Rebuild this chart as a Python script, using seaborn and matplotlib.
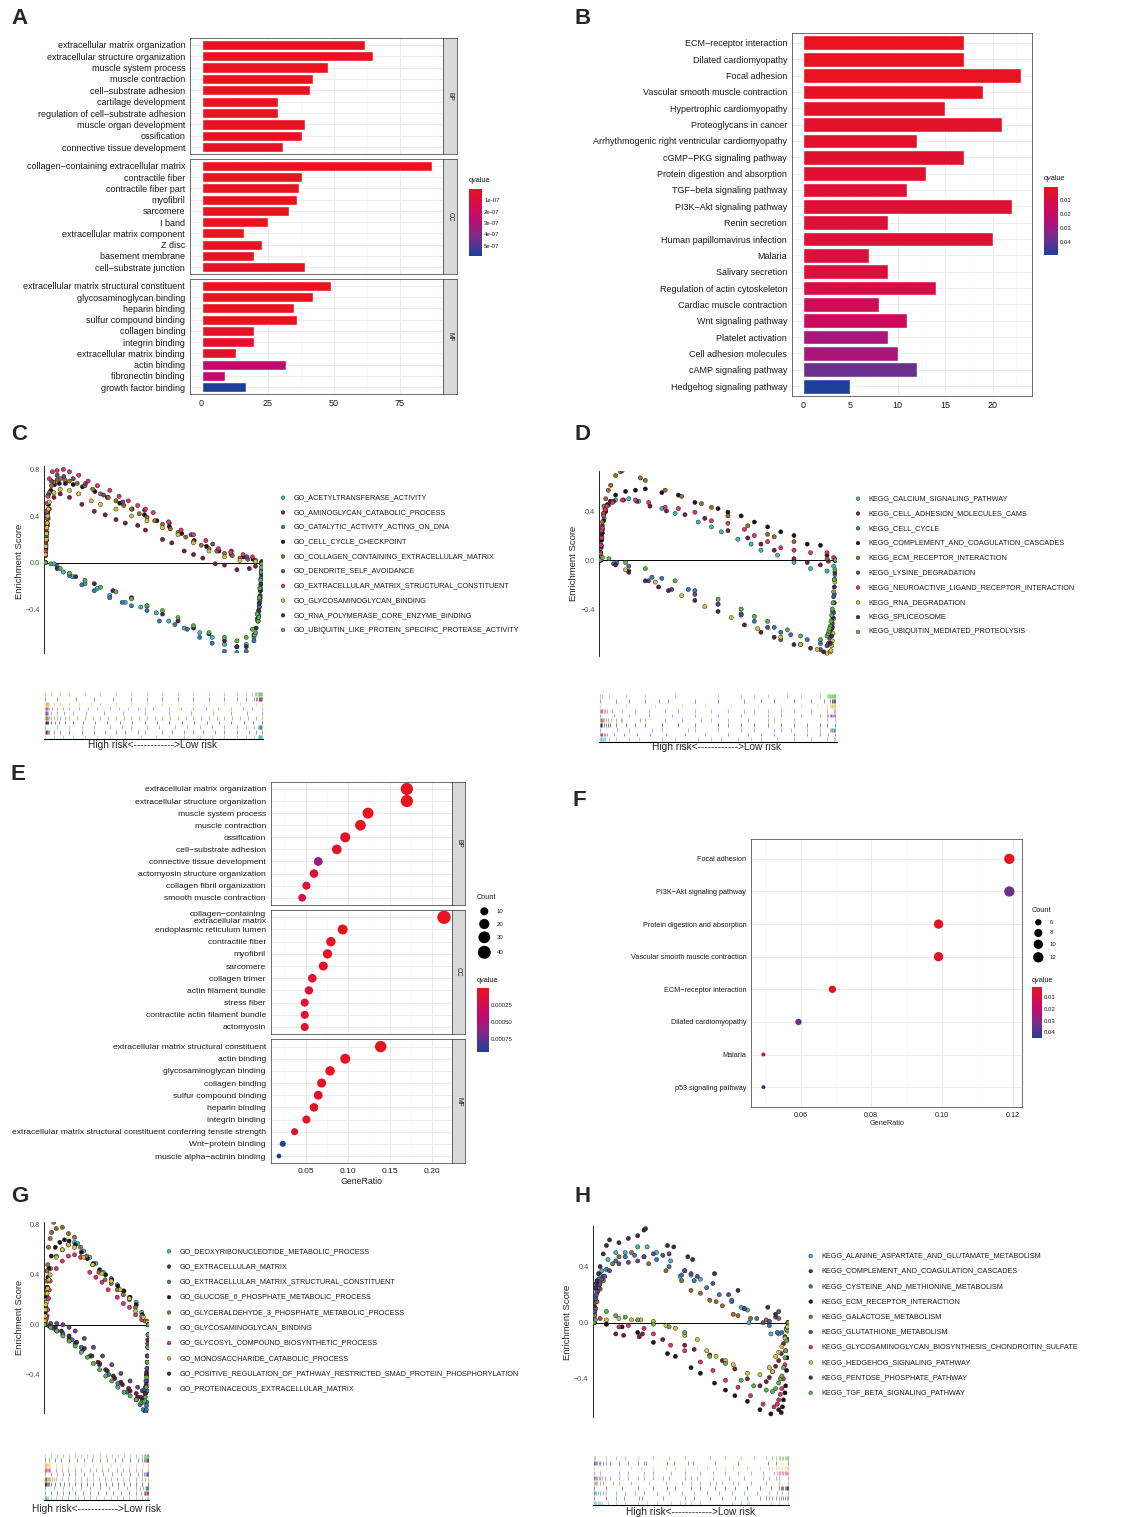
import numpy as np
import pandas as pd
import matplotlib
matplotlib.use("Agg")
import matplotlib.pyplot as plt
import seaborn as sns
from matplotlib.colors import LinearSegmentedColormap, Normalize
from matplotlib.colorbar import ColorbarBase

W, H = 1123, 1517

# ---------------- A: GO enrichment barplot ----------------
A_bp_terms = ["extracellular matrix organization", "extracellular structure organization",
              "muscle system process", "muscle contraction", "cell−substrate adhesion",
              "cartilage development", "regulation of cell−substrate adhesion",
              "muscle organ development", "ossification", "connective tissue development"]
A_bp_count = [62, 65, 48, 42, 41, 29, 29, 39, 38, 31]
A_bp_q = [2e-15, 1e-15, 3e-12, 5e-11, 4e-10, 2e-9, 5e-9, 8e-9, 1e-8, 2e-8]

A_cc_terms = ["collagen−containing extracellular matrix", "contractile fiber", "contractile fiber part",
              "myofibril", "sarcomere", "I band", "extracellular matrix component", "Z disc",
              "basement membrane", "cell−substrate junction"]
A_cc_count = [87, 38, 37, 36, 33, 25, 16, 23, 20, 39]
A_cc_q = [1e-15, 1e-11, 2e-11, 3e-11, 6e-10, 2e-9, 4e-9, 6e-9, 9e-9, 1.5e-8]

A_mf_terms = ["extracellular matrix structural constituent", "glycosaminoglycan binding", "heparin binding",
              "sulfur compound binding", "collagen binding", "integrin binding",
              "extracellular matrix binding", "actin binding", "fibronectin binding", "growth factor binding"]
A_mf_count = [49, 42, 35, 36, 20, 20, 13, 32, 9, 17]
A_mf_q = [1e-12, 3e-11, 2e-10, 5e-10, 2e-8, 3e-8, 4e-8, 2.4e-7, 2.6e-7, 5.9e-7]

# ---------------- B: KEGG barplot ----------------
B_terms = ["ECM−receptor interaction", "Dilated cardiomyopathy", "Focal adhesion",
           "Vascular smooth muscle contraction", "Hypertrophic cardiomyopathy", "Proteoglycans in cancer",
           "Arrhythmogenic right ventricular cardiomyopathy", "cGMP−PKG signaling pathway",
           "Protein digestion and absorption", "TGF−beta signaling pathway", "PI3K−Akt signaling pathway",
           "Renin secretion", "Human papillomavirus infection", "Malaria", "Salivary secretion",
           "Regulation of actin cytoskeleton", "Cardiac muscle contraction", "Wnt signaling pathway",
           "Platelet activation", "Cell adhesion molecules", "cAMP signaling pathway",
           "Hedgehog signaling pathway"]
B_count = [17, 17, 23, 19, 15, 21, 12, 17, 13, 11, 22, 9, 20, 7, 9, 14, 8, 11, 9, 10, 12, 5]
B_q = [0.0005, 0.001, 0.001, 0.002, 0.003, 0.004, 0.004, 0.005, 0.005, 0.006, 0.006, 0.007,
       0.007, 0.008, 0.008, 0.011, 0.015, 0.016, 0.026, 0.026, 0.038, 0.049]

# ---------------- E: GO dotplot ----------------
E_bp_terms = ["extracellular matrix organization", "extracellular structure organization",
              "muscle system process", "muscle contraction", "ossification", "cell−substrate adhesion",
              "connective tissue development", "actomyosin structure organization",
              "collagen fibril organization", "smooth muscle contraction"]
E_bp_ratio = [0.170, 0.170, 0.124, 0.115, 0.097, 0.087, 0.065, 0.060, 0.051, 0.046]
E_bp_count = [34, 34, 25, 23, 19, 17, 13, 12, 10, 9]
E_bp_q = [1e-8, 1e-8, 2e-6, 1e-5, 3e-5, 6e-5, 5.2e-4, 1.2e-4, 1e-4, 1.8e-4]

E_cc_terms = ["collagen−containing\nextracellular matrix", "endoplasmic reticulum lumen", "contractile fiber",
              "myofibril", "sarcomere", "collagen trimer", "actin filament bundle", "stress fiber",
              "contractile actin filament bundle", "actomyosin"]
E_cc_ratio = [0.214, 0.094, 0.080, 0.076, 0.071, 0.058, 0.054, 0.049, 0.049, 0.049]
E_cc_count = [43, 19, 16, 15, 14, 12, 11, 10, 10, 10]
E_cc_q = [1e-8, 2e-6, 2e-5, 3e-5, 4e-5, 6e-5, 8e-5, 9e-5, 9e-5, 9e-5]

E_mf_terms = ["extracellular matrix structural constituent", "actin binding", "glycosaminoglycan binding",
              "collagen binding", "sulfur compound binding", "heparin binding", "integrin binding",
              "extracellular matrix structural constituent conferring tensile strength",
              "Wnt−protein binding", "muscle alpha−actinin binding"]
E_mf_ratio = [0.139, 0.097, 0.079, 0.069, 0.065, 0.060, 0.051, 0.037, 0.023, 0.0185]
E_mf_count = [28, 19, 16, 14, 13, 12, 10, 7, 5, 4]
E_mf_q = [1e-8, 1e-5, 2e-5, 3e-5, 1e-4, 5e-5, 8e-5, 1.2e-4, 9.2e-4, 9.3e-4]

# ---------------- F: KEGG dotplot ----------------
F_terms = ["Focal adhesion", "PI3K−Akt signaling pathway", "Protein digestion and absorption",
           "Vascular smooth muscle contraction", "ECM−receptor interaction", "Dilated cardiomyopathy",
           "Malaria", "p53 signaling pathway"]
F_ratio = [0.119, 0.119, 0.099, 0.099, 0.069, 0.0594, 0.0495, 0.0495]
F_count = [12, 12, 10, 10, 7, 6, 5, 5]
F_q = [0.001, 0.035, 0.002, 0.003, 0.003, 0.034, 0.012, 0.045]

# ---------------- C: GSEA GO (training set) ----------------
C_terms = ["GO_ACETYLTRANSFERASE_ACTIVITY", "GO_AMINOGLYCAN_CATABOLIC_PROCESS",
           "GO_CATALYTIC_ACTIVITY_ACTING_ON_DNA", "GO_CELL_CYCLE_CHECKPOINT",
           "GO_COLLAGEN_CONTAINING_EXTRACELLULAR_MATRIX", "GO_DENDRITE_SELF_AVOIDANCE",
           "GO_EXTRACELLULAR_MATRIX_STRUCTURAL_CONSTITUENT", "GO_GLYCOSAMINOGLYCAN_BINDING",
           "GO_RNA_POLYMERASE_CORE_ENZYME_BINDING", "GO_UBIQUITIN_LIKE_PROTEIN_SPECIFIC_PROTEASE_ACTIVITY"]
C_rank = [
    [0, 28, 58, 88, 128, 168, 208, 258, 308, 358, 398, 448, 498, 538, 578, 618, 648, 673, 686, 693, 698],
    [0, 5, 13, 28, 48, 78, 118, 158, 193, 228, 258, 298, 323, 378, 408, 448, 478, 508, 548, 578, 618, 658, 678, 698],
    [0, 38, 78, 118, 158, 208, 248, 278, 328, 368, 418, 458, 498, 538, 578, 618, 648, 673, 686, 694, 698],
    [0, 4, 10, 18, 30, 45, 65, 90, 120, 160, 200, 240, 280, 320, 360, 400, 440, 480, 520, 560, 600, 640, 670, 698],
    [0, 3, 8, 13, 20, 28, 38, 48, 63, 78, 103, 128, 153, 178, 203, 228, 253, 278, 303, 328, 353, 378, 403,
     428, 453, 478, 503, 528, 553, 578, 603, 628, 653, 678, 698],
    [0, 4, 10, 20, 38, 60, 90, 130, 188, 250, 320, 400, 470, 540, 600, 650, 698],
    [0, 3, 8, 13, 23, 38, 58, 78, 108, 138, 168, 208, 238, 268, 298, 323, 348, 398, 438, 478, 518, 558, 598,
     638, 668, 698],
    [0, 2, 6, 13, 28, 48, 78, 108, 148, 178, 228, 278, 328, 378, 428, 478, 528, 578, 628, 678, 698],
    [0, 38, 98, 158, 218, 278, 328, 378, 428, 478, 528, 578, 618, 648, 673, 688, 696, 698],
    [0, 18, 48, 78, 128, 178, 228, 278, 328, 378, 428, 478, 528, 578, 618, 648, 668, 683, 690, 694, 698],
]
C_es = [
    [0, -0.01, -0.08, -0.12, -0.18, -0.22, -0.28, -0.34, -0.38, -0.43, -0.50, -0.56, -0.60, -0.64, -0.70,
     -0.72, -0.70, -0.64, -0.50, -0.30, -0.01],
    [0, 0.26, 0.46, 0.56, 0.59, 0.56, 0.50, 0.44, 0.41, 0.37, 0.34, 0.32, 0.28, 0.20, 0.17, 0.10, 0.07, 0.04,
     -0.01, -0.02, -0.06, -0.05, -0.03, 0.0],
    [0, -0.03, -0.11, -0.19, -0.24, -0.30, -0.34, -0.37, -0.41, -0.50, -0.53, -0.57, -0.64, -0.69, -0.76,
     -0.77, -0.76, -0.67, -0.50, -0.24, -0.01],
    [0, 0.25, 0.50, 0.62, 0.67, 0.68, 0.68, 0.67, 0.65, 0.61, 0.56, 0.51, 0.46, 0.41, 0.36, 0.31, 0.25, 0.19,
     0.14, 0.10, 0.07, 0.05, 0.03, 0.0],
    [0, 0.22, 0.45, 0.60, 0.66, 0.69, 0.71, 0.72, 0.71, 0.70, 0.68, 0.66, 0.63, 0.59, 0.56, 0.53, 0.49, 0.46,
     0.42, 0.39, 0.36, 0.33, 0.29, 0.26, 0.22, 0.18, 0.15, 0.12, 0.10, 0.08, 0.06, 0.04, 0.03, 0.02, 0.0],
    [0, 0.30, 0.58, 0.70, 0.75, 0.74, 0.72, 0.68, 0.58, 0.52, 0.45, 0.34, 0.24, 0.16, 0.10, 0.05, 0.0],
    [0, 0.29, 0.57, 0.72, 0.78, 0.79, 0.80, 0.78, 0.75, 0.70, 0.66, 0.62, 0.57, 0.53, 0.49, 0.46, 0.43, 0.35,
     0.28, 0.24, 0.19, 0.12, 0.09, 0.07, 0.05, 0.01],
    [0, 0.14, 0.34, 0.52, 0.60, 0.63, 0.62, 0.59, 0.53, 0.50, 0.46, 0.40, 0.36, 0.30, 0.24, 0.17, 0.10, 0.05,
     0.02, 0.01, 0.0],
    [0, -0.05, -0.12, -0.18, -0.24, -0.30, -0.37, -0.44, -0.50, -0.56, -0.61, -0.67, -0.72, -0.72, -0.62,
     -0.41, -0.18, 0.0],
    [0, -0.01, -0.05, -0.09, -0.15, -0.21, -0.25, -0.31, -0.37, -0.41, -0.47, -0.54, -0.60, -0.64, -0.67,
     -0.64, -0.57, -0.44, -0.30, -0.15, -0.01],
]
# hits on the steep start / end walls of each curve
C_rank_wall = [
    [688, 689, 690, 691, 692, 694.5, 696, 697],
    [1, 2, 3, 7, 9],
    [688, 690, 692, 693, 695, 696, 697],
    [1, 2, 3, 6, 8],
    [1, 2, 5, 6],
    [1, 2, 3, 6],
    [1, 2, 5, 6],
    [1, 3, 4, 5, 8, 10],
    [680, 684, 690, 692, 694, 697],
    [675, 679, 686, 688, 692, 696, 697],
]
C_es_wall = [
    [-0.46, -0.42, -0.38, -0.34, -0.32, -0.22, -0.14, -0.07],
    [0.06, 0.12, 0.19, 0.32, 0.38],
    [-0.45, -0.38, -0.31, -0.28, -0.19, -0.13, -0.07],
    [0.07, 0.13, 0.19, 0.34, 0.43],
    [0.07, 0.15, 0.32, 0.38],
    [0.08, 0.16, 0.23, 0.42],
    [0.10, 0.19, 0.44, 0.51],
    [0.07, 0.20, 0.25, 0.30, 0.40, 0.46],
    [-0.56, -0.48, -0.35, -0.29, -0.24, -0.10],
    [-0.62, -0.60, -0.50, -0.47, -0.22, -0.08, -0.04],
]

# ---------------- D: GSEA KEGG (training set) ----------------
D_terms = ["KEGG_CALCIUM_SIGNALING_PATHWAY", "KEGG_CELL_ADHESION_MOLECULES_CAMS", "KEGG_CELL_CYCLE",
           "KEGG_COMPLEMENT_AND_COAGULATION_CASCADES", "KEGG_ECM_RECEPTOR_INTERACTION",
           "KEGG_LYSINE_DEGRADATION", "KEGG_NEUROACTIVE_LIGAND_RECEPTOR_INTERACTION",
           "KEGG_RNA_DEGRADATION", "KEGG_SPLICEOSOME", "KEGG_UBIQUITIN_MEDIATED_PROTEOLYSIS"]
D_rank = [
    [0, 4, 11, 26, 46, 86, 116, 186, 226, 296, 336, 366, 416, 456, 486, 536, 586, 636, 686, 706, 711],
    [0, 4, 10, 20, 40, 70, 110, 150, 200, 256, 316, 386, 446, 486, 526, 586, 626, 666, 690, 711],
    [0, 50, 86, 156, 186, 266, 286, 356, 426, 466, 526, 546, 576, 626, 666, 696, 706, 711],
    [0, 6, 16, 30, 46, 76, 106, 136, 186, 236, 286, 356, 386, 426, 466, 506, 546, 586, 626, 666, 686, 711],
    [0, 2, 6, 16, 31, 46, 61, 66, 121, 136, 196, 246, 306, 336, 386, 446, 506, 526, 586, 686, 711],
    [0, 40, 86, 146, 216, 286, 356, 426, 506, 546, 606, 666, 686, 701, 709, 711],
    [0, 4, 10, 20, 36, 66, 106, 146, 196, 236, 286, 336, 386, 436, 466, 506, 546, 586, 636, 686, 706, 711],
    [0, 76, 166, 246, 316, 396, 476, 546, 606, 656, 686, 696, 704, 708, 711],
    [0, 46, 86, 136, 176, 206, 286, 356, 436, 486, 526, 586, 636, 676, 696, 706, 711],
    [0, 6, 26, 76, 136, 226, 356, 426, 466, 506, 566, 606, 666, 686, 696, 704, 708, 711],
]
D_es = [
    [0, 0.17, 0.34, 0.45, 0.49, 0.50, 0.48, 0.42, 0.38, 0.31, 0.27, 0.23, 0.17, 0.13, 0.08, 0.04, -0.02,
     -0.07, -0.09, -0.05, 0.0],
    [0, 0.20, 0.38, 0.45, 0.48, 0.49, 0.48, 0.44, 0.40, 0.37, 0.34, 0.24, 0.18, 0.13, 0.08, 0.01, -0.02,
     -0.04, -0.01, 0.0],
    [0, -0.02, -0.05, -0.14, -0.15, -0.24, -0.25, -0.36, -0.44, -0.50, -0.55, -0.59, -0.61, -0.65, -0.68,
     -0.62, -0.43, 0.0],
    [0, 0.22, 0.40, 0.48, 0.53, 0.56, 0.57, 0.58, 0.55, 0.53, 0.47, 0.42, 0.39, 0.36, 0.31, 0.27, 0.23, 0.20,
     0.13, 0.12, 0.04, 0.0],
    [0, 0.12, 0.31, 0.50, 0.61, 0.69, 0.72, 0.73, 0.67, 0.65, 0.57, 0.52, 0.46, 0.43, 0.36, 0.28, 0.21, 0.19,
     0.15, 0.01, 0.0],
    [0, -0.03, -0.09, -0.17, -0.24, -0.28, -0.36, -0.45, -0.55, -0.65, -0.69, -0.73, -0.70, -0.51, -0.16, 0.0],
    [0, 0.18, 0.36, 0.44, 0.47, 0.49, 0.49, 0.47, 0.43, 0.42, 0.39, 0.32, 0.30, 0.25, 0.20, 0.15, 0.10, 0.08,
     0.06, 0.06, 0.02, 0.0],
    [0, -0.08, -0.18, -0.29, -0.38, -0.47, -0.56, -0.63, -0.69, -0.73, -0.76, -0.75, -0.60, -0.35, 0.0],
    [0, -0.04, -0.10, -0.17, -0.22, -0.25, -0.33, -0.42, -0.53, -0.59, -0.63, -0.69, -0.72, -0.75, -0.68,
     -0.35, 0.0],
    [0, 0.02, 0.01, -0.02, -0.07, -0.17, -0.32, -0.40, -0.46, -0.50, -0.57, -0.62, -0.65, -0.62, -0.54,
     -0.35, -0.16, 0.0],
]
D_rank_wall = [
    [1, 2, 7, 15],
    [1, 2, 6, 14],
    [698, 700, 702, 704, 708, 710],
    [1, 2, 3, 10, 22],
    [1, 3, 4, 9, 11, 24],
    [690, 694, 697, 699, 703, 706],
    [1, 2, 6, 14],
    [698, 700, 702, 706, 710],
    [700, 702, 704, 708, 710],
    [690, 692, 694, 698, 700, 702, 706, 710],
]
D_es_wall = [
    [0.05, 0.10, 0.25, 0.39],
    [0.06, 0.12, 0.28, 0.42],
    [-0.60, -0.56, -0.52, -0.48, -0.28, -0.12],
    [0.06, 0.11, 0.16, 0.32, 0.45],
    [0.06, 0.18, 0.24, 0.38, 0.44, 0.57],
    [-0.68, -0.64, -0.60, -0.56, -0.42, -0.30],
    [0.05, 0.12, 0.26, 0.41],
    [-0.74, -0.70, -0.66, -0.48, -0.18],
    [-0.62, -0.55, -0.47, -0.22, -0.10],
    [-0.60, -0.58, -0.56, -0.50, -0.45, -0.40, -0.26, -0.08],
]

# ---------------- G: GSEA GO (test set) ----------------
G_terms = ["GO_DEOXYRIBONUCLEOTIDE_METABOLIC_PROCESS", "GO_EXTRACELLULAR_MATRIX",
           "GO_EXTRACELLULAR_MATRIX_STRUCTURAL_CONSTITUENT", "GO_GLUCOSE_6_PHOSPHATE_METABOLIC_PROCESS",
           "GO_GLYCERALDEHYDE_3_PHOSPHATE_METABOLIC_PROCESS", "GO_GLYCOSAMINOGLYCAN_BINDING",
           "GO_GLYCOSYL_COMPOUND_BIOSYNTHETIC_PROCESS", "GO_MONOSACCHARIDE_CATABOLIC_PROCESS",
           "GO_POSITIVE_REGULATION_OF_PATHWAY_RESTRICTED_SMAD_PROTEIN_PHOSPHORYLATION",
           "GO_PROTEINACEOUS_EXTRACELLULAR_MATRIX"]
G_rank = [
    [0, 4, 10, 20, 38, 58, 78, 98, 108, 128, 148, 168, 193, 218, 238, 258, 278, 300, 318, 335, 340],
    [0, 20, 40, 60, 80, 100, 125, 150, 175, 200, 225, 250, 275, 300, 315, 325, 332, 336, 340],
    [0, 30, 60, 90, 120, 150, 180, 210, 240, 270, 300, 313, 323, 330, 335, 338, 340],
    [0, 4, 8, 14, 22, 35, 50, 65, 80, 100, 120, 140, 160, 180, 200, 220, 240, 260, 280, 300, 320, 340],
    [0, 3, 6, 10, 13, 18, 23, 30, 38, 58, 78, 98, 118, 138, 158, 178, 198, 218, 238, 258, 278, 298, 318, 328, 340],
    [0, 20, 40, 60, 80, 100, 130, 160, 190, 220, 250, 280, 305, 320, 330, 335, 338, 340],
    [0, 8, 13, 18, 38, 58, 78, 98, 118, 148, 168, 188, 208, 238, 258, 278, 298, 318, 340],
    [0, 2, 6, 10, 18, 38, 58, 78, 98, 128, 158, 188, 218, 248, 278, 298, 323, 338, 340],
    [0, 15, 35, 55, 80, 105, 130, 155, 180, 205, 230, 255, 280, 305, 320, 330, 336, 340],
    [0, 20, 40, 60, 80, 100, 120, 140, 160, 180, 200, 220, 240, 260, 280, 300, 318, 330, 336, 340],
]
G_es = [
    [0, 0.20, 0.35, 0.45, 0.55, 0.60, 0.64, 0.66, 0.65, 0.59, 0.54, 0.49, 0.42, 0.37, 0.32, 0.27, 0.22, 0.18,
     0.10, 0.03, 0.0],
    [0, -0.02, -0.05, -0.08, -0.11, -0.15, -0.20, -0.25, -0.30, -0.36, -0.41, -0.46, -0.51, -0.55, -0.58,
     -0.60, -0.50, -0.25, 0.0],
    [0, -0.03, -0.07, -0.12, -0.18, -0.25, -0.32, -0.40, -0.47, -0.54, -0.60, -0.64, -0.68, -0.70, -0.62,
     -0.35, 0.0],
    [0, 0.15, 0.30, 0.45, 0.55, 0.62, 0.66, 0.68, 0.67, 0.64, 0.58, 0.53, 0.49, 0.44, 0.40, 0.36, 0.31, 0.27,
     0.22, 0.16, 0.08, 0.0],
    [0, 0.18, 0.35, 0.48, 0.62, 0.69, 0.74, 0.82, 0.77, 0.78, 0.73, 0.70, 0.62, 0.55, 0.48, 0.42, 0.36, 0.33,
     0.28, 0.24, 0.20, 0.14, 0.07, 0.03, 0.0],
    [0, 0.01, 0.01, 0.0, -0.02, -0.05, -0.11, -0.18, -0.25, -0.32, -0.39, -0.45, -0.50, -0.53, -0.50, -0.35,
     -0.15, 0.0],
    [0, 0.07, 0.21, 0.35, 0.45, 0.51, 0.55, 0.56, 0.54, 0.42, 0.38, 0.34, 0.28, 0.22, 0.17, 0.14, 0.08, 0.04, 0.0],
    [0, 0.07, 0.18, 0.29, 0.40, 0.54, 0.60, 0.64, 0.62, 0.54, 0.48, 0.41, 0.35, 0.28, 0.21, 0.11, 0.06, 0.02, 0.0],
    [0, -0.01, -0.02, -0.05, -0.09, -0.14, -0.19, -0.25, -0.31, -0.37, -0.43, -0.48, -0.53, -0.58, -0.61,
     -0.55, -0.30, 0.0],
    [0, -0.02, -0.05, -0.09, -0.13, -0.17, -0.22, -0.26, -0.31, -0.36, -0.41, -0.45, -0.50, -0.54, -0.57,
     -0.60, -0.62, -0.58, -0.30, 0.0],
]
G_rank_wall = [
    [1, 2, 6, 8],
    [328, 330, 334, 338],
    [332, 333, 334, 336, 337, 339],
    [1, 2, 6, 11],
    [1, 2, 4, 8],
    [326, 332, 334, 337, 339],
    [2, 4, 6, 10, 15],
    [1, 3, 4, 8, 14],
    [325, 333, 334, 338, 339],
    [325, 328, 333, 334, 338, 339],
]
G_es_wall = [
    [0.06, 0.12, 0.26, 0.30],
    [-0.58, -0.55, -0.38, -0.12],
    [-0.70, -0.68, -0.65, -0.53, -0.45, -0.18],
    [0.05, 0.10, 0.23, 0.38],
    [0.06, 0.12, 0.25, 0.43],
    [-0.52, -0.45, -0.40, -0.25, -0.08],
    [0.01, 0.03, 0.05, 0.12, 0.28],
    [0.03, 0.12, 0.16, 0.25, 0.36],
    [-0.61, -0.48, -0.40, -0.18, -0.08],
    [-0.62, -0.61, -0.50, -0.42, -0.18, -0.08],
]

# ---------------- H: GSEA KEGG (test set) ----------------
H_terms = ["KEGG_ALANINE_ASPARTATE_AND_GLUTAMATE_METABOLISM", "KEGG_COMPLEMENT_AND_COAGULATION_CASCADES",
           "KEGG_CYSTEINE_AND_METHIONINE_METABOLISM", "KEGG_ECM_RECEPTOR_INTERACTION",
           "KEGG_GALACTOSE_METABOLISM", "KEGG_GLUTATHIONE_METABOLISM",
           "KEGG_GLYCOSAMINOGLYCAN_BIOSYNTHESIS_CHONDROITIN_SULFATE", "KEGG_HEDGEHOG_SIGNALING_PATHWAY",
           "KEGG_PENTOSE_PHOSPHATE_PATHWAY", "KEGG_TGF_BETA_SIGNALING_PATHWAY"]
H_rank = [
    [0, 5, 15, 25, 45, 70, 100, 140, 170, 200, 245, 275, 290, 310, 340, 440, 470, 490, 495, 565, 590, 620],
    [0, 40, 70, 95, 145, 155, 220, 290, 320, 370, 410, 450, 490, 530, 550, 570, 590, 605, 615, 620],
    [0, 8, 20, 40, 70, 100, 130, 160, 200, 240, 280, 320, 360, 400, 440, 480, 520, 560, 585, 600, 620],
    [0, 40, 90, 140, 190, 235, 260, 310, 340, 385, 420, 450, 490, 530, 565, 590, 605, 615, 620],
    [0, 10, 30, 60, 80, 120, 175, 230, 280, 310, 340, 370, 390, 410, 445, 460, 500, 550, 590, 620],
    [0, 5, 10, 25, 50, 80, 110, 140, 160, 190, 220, 240, 290, 310, 330, 380, 430, 480, 540, 560, 580, 590, 620],
    [0, 20, 80, 110, 160, 190, 245, 290, 340, 380, 420, 460, 500, 540, 575, 595, 605, 612, 620],
    [0, 40, 80, 120, 150, 190, 230, 260, 290, 330, 360, 390, 420, 445, 490, 530, 560, 580, 600, 615, 620],
    [0, 5, 15, 30, 50, 80, 110, 140, 160, 165, 235, 255, 300, 315, 385, 460, 555, 580, 620],
    [0, 5, 40, 70, 100, 140, 190, 240, 290, 370, 420, 470, 510, 550, 570, 590, 605, 615, 620],
]
H_es = [
    [0, 0.18, 0.31, 0.37, 0.45, 0.50, 0.50, 0.54, 0.54, 0.50, 0.44, 0.33, 0.37, 0.34, 0.31, 0.15, 0.11, 0.09,
     0.0, -0.08, -0.08, 0.0],
    [0, -0.01, -0.08, -0.09, -0.10, -0.08, -0.12, -0.16, -0.19, -0.23, -0.27, -0.33, -0.40, -0.45, -0.42,
     -0.35, -0.27, -0.15, -0.04, 0.0],
    [0, 0.15, 0.28, 0.38, 0.44, 0.47, 0.48, 0.47, 0.45, 0.40, 0.34, 0.30, 0.25, 0.20, 0.16, 0.10, 0.03, -0.02,
     -0.07, -0.07, 0.0],
    [0, -0.01, -0.03, -0.07, -0.14, -0.22, -0.24, -0.32, -0.36, -0.43, -0.48, -0.52, -0.56, -0.62, -0.65,
     -0.62, -0.55, -0.34, 0.0],
    [0, 0.15, 0.30, 0.42, 0.47, 0.50, 0.42, 0.37, 0.30, 0.23, 0.21, 0.16, 0.15, 0.12, 0.06, 0.05, 0.03, 0.02,
     0.03, 0.0],
    [0, 0.17, 0.22, 0.31, 0.37, 0.42, 0.43, 0.44, 0.47, 0.49, 0.48, 0.49, 0.37, 0.35, 0.33, 0.28, 0.20, 0.10,
     0.0, 0.01, 0.04, 0.08, 0.0],
    [0, 0.03, -0.03, -0.02, -0.04, -0.08, -0.16, -0.20, -0.28, -0.34, -0.41, -0.46, -0.52, -0.58, -0.60,
     -0.51, -0.40, -0.20, 0.0],
    [0, 0.02, 0.03, 0.02, 0.02, 0.01, -0.02, -0.04, -0.09, -0.12, -0.20, -0.24, -0.27, -0.30, -0.36, -0.37,
     -0.32, -0.24, -0.17, -0.05, 0.0],
    [0, 0.25, 0.35, 0.49, 0.59, 0.57, 0.60, 0.62, 0.66, 0.67, 0.55, 0.54, 0.47, 0.45, 0.35, 0.23, 0.11, 0.06, 0.0],
    [0, 0.02, 0.08, 0.05, 0.04, 0.02, -0.01, -0.03, -0.07, -0.24, -0.29, -0.41, -0.45, -0.48, -0.49, -0.43,
     -0.32, -0.13, 0.0],
]
H_rank_wall = [
    [2, 8, 12, 20],
    [560, 580, 598, 610],
    [2, 4, 12, 30],
    [598, 602, 610, 612, 617, 619],
    [3, 6, 20],
    [2, 8, 15, 18, 35],
    [585, 590, 600, 610, 616],
    [570, 590, 610, 618],
    [2, 8, 10, 20, 40],
    [580, 595, 600, 610, 612, 618],
]
H_es_wall = [
    [0.08, 0.24, 0.28, 0.34],
    [-0.39, -0.31, -0.22, -0.10],
    [0.06, 0.10, 0.22, 0.33],
    [-0.64, -0.60, -0.50, -0.45, -0.25, -0.12],
    [0.05, 0.10, 0.24],
    [0.08, 0.20, 0.25, 0.27, 0.33],
    [-0.58, -0.55, -0.47, -0.30, -0.12],
    [-0.35, -0.21, -0.11, -0.03],
    [0.12, 0.28, 0.30, 0.40, 0.55],
    [-0.47, -0.40, -0.38, -0.25, -0.20, -0.06],
]

GSEA_COLORS = ["#3FB8C8", "#7E1E3C", "#3A7AB3", "#22101F", "#9C6B2E",
               "#5E4A8C", "#E2336F", "#D2C443", "#4B2744", "#5DB34B"]
CMAP = LinearSegmentedColormap.from_list(
    "q", [(0.0, "#E8131F"), (0.42, "#C4096F"), (0.72, "#7A2C8B"), (1.0, "#1E3F98")])

sns.set_theme(style="white")
plt.rcParams["font.family"] = ["Liberation Sans", "DejaVu Sans"]
plt.rcParams["axes.linewidth"] = 0.5

fig = plt.figure(figsize=(W / 100, H / 100), dpi=100)


def px_axes(x0, y0, x1, y1):
    return fig.add_axes([x0 / W, 1 - y1 / H, (x1 - x0) / W, (y1 - y0) / H])


def ftext(x, y, s, **kw):
    fig.text(x / W, 1 - y / H, s, **kw)


def style_panel(ax, xlim, xticks, minor, fs, show_x=True):
    ax.set_xlim(*xlim)
    ax.set_xticks(xticks)
    ax.set_xticks(minor, minor=True)
    ax.grid(which="major", color="#EBEBEB", lw=0.7)
    ax.grid(which="minor", axis="x", color="#F4F4F4", lw=0.45)
    ax.set_axisbelow(True)
    for sp in ax.spines.values():
        sp.set_color("#333333")
        sp.set_linewidth(0.5)
    ax.tick_params(axis="both", which="major", length=2, width=0.5, color="#333333",
                   labelsize=fs, labelcolor="#1A1A1A", pad=1.5)
    ax.tick_params(which="minor", length=0)
    if not show_x:
        ax.tick_params(axis="x", labelbottom=False, length=0)
    ax.set_xlabel("")
    ax.set_ylabel("")


def strip(x0, y0, x1, y1, label):
    sax = px_axes(x0, y0, x1, y1)
    sax.set_facecolor("#D9D9D9")
    sax.set_xticks([])
    sax.set_yticks([])
    for sp in sax.spines.values():
        sp.set_color("#333333")
        sp.set_linewidth(0.5)
    sax.text(0.5, 0.5, label, rotation=-90, ha="center", va="center", fontsize=4.8,
             color="#1A1A1A", transform=sax.transAxes)


def qbar(box, title_xy, norm, ticks, labels):
    cax = px_axes(*box)
    cb = ColorbarBase(cax, cmap=CMAP, norm=norm, orientation="vertical")
    cax.invert_yaxis()
    cb.outline.set_visible(False)
    cb.set_ticks(ticks)
    cb.set_ticklabels(labels)
    cax.tick_params(length=2, width=0.5, color="white", direction="in", labelsize=4.3,
                    labelcolor="#1A1A1A", pad=1.5)
    ftext(title_xy[0], title_xy[1], "qvalue", fontsize=5.3, ha="left", va="center", color="#1A1A1A")


def bar_facet(ax, terms, counts, qvals, norm, xlim, xticks, minor, fs, show_x):
    df = pd.DataFrame({"term": terms, "count": counts})
    cols = [CMAP(norm(q)) for q in qvals]
    sns.barplot(data=df, x="count", y="term", hue="term", palette=cols, legend=False,
                saturation=1, width=0.9, orient="h", ax=ax)
    ax.set_ylim(len(terms) - 0.4, -0.6)
    style_panel(ax, xlim, xticks, minor, fs, show_x)


def gg_sizes(counts, cmin, cmax, dmin, dmax):
    out = {}
    for c in counts:
        d = dmin + (dmax - dmin) * np.sqrt((c - cmin) / (cmax - cmin))
        out[c] = (d * 0.72) ** 2
    return out


def dot_facet(ax, terms, ratio, counts, qvals, norm, size_map, xlim, xticks, minor, fs, show_x):
    df = pd.DataFrame({"ratio": ratio, "count": counts, "q": qvals})
    df["pos"] = np.arange(len(terms))
    sns.scatterplot(data=df, x="ratio", y="pos", hue="q", palette=CMAP, hue_norm=norm,
                    size="count", sizes=size_map, legend=False, linewidth=0, ax=ax, zorder=3)
    ax.set_yticks(np.arange(len(terms)))
    ax.set_yticklabels(terms, linespacing=0.85)
    ax.set_ylim(len(terms) - 0.4, -0.6)
    style_panel(ax, xlim, xticks, minor, fs, show_x)


def size_legend(x_title, y_title, dot_x, ys, lab_x, values, size_map):
    ftext(x_title, y_title, "Count", fontsize=5.3, ha="left", va="center", color="#1A1A1A")
    lax = px_axes(dot_x - 12, ys[0] - 10, lab_x + 15, ys[-1] + 10)
    lax.set_xlim(dot_x - 12, lab_x + 15)
    lax.set_ylim(ys[-1] + 10, ys[0] - 10)
    lax.axis("off")
    lax.scatter([dot_x] * len(values), ys, s=[size_map[v] for v in values], c="black", linewidths=0)
    for y, v in zip(ys, values):
        lax.text(lab_x, y, str(v), fontsize=4.3, ha="left", va="center", color="#1A1A1A")


def gsea_panel(box, rug_box, terms, ranks, scores, ylim, yticks, xmax, leg, ylab_xy, risk_xy):
    rows = []
    for t, r, e in zip(terms, ranks, scores):
        rows.append(pd.DataFrame({"term": t, "rank": r, "es": e}))
    df = pd.concat(rows, ignore_index=True)
    xl = (-0.006 * xmax, 1.006 * xmax)

    ax = px_axes(*box)
    ax.axhline(0, color="black", lw=0.7, zorder=1)
    sns.scatterplot(data=df, x="rank", y="es", hue="term", palette=GSEA_COLORS, s=9,
                    edgecolor="#111111", linewidth=0.3, legend=False, ax=ax, zorder=3)
    ax.set_xlim(*xl)
    ax.set_ylim(*ylim)
    ax.set_yticks(yticks)
    ax.set_yticklabels([f"{v:.1f}".replace("-", "−") for v in yticks])
    ax.set_xticks([])
    for k in ["top", "right", "bottom"]:
        ax.spines[k].set_visible(False)
    ax.spines["left"].set_color("black")
    ax.spines["left"].set_linewidth(0.6)
    ax.tick_params(axis="y", length=2, width=0.5, color="black", labelsize=5.3,
                   labelcolor="#555555", pad=1)
    ax.set_xlabel("")
    ax.set_ylabel("")
    ax.grid(False)
    ftext(ylab_xy[0], ylab_xy[1], "Enrichment Score", rotation=90, fontsize=6.8,
          ha="center", va="center")

    rax = px_axes(*rug_box)
    for i, (r, c) in enumerate(zip(ranks, GSEA_COLORS)):
        rax.vlines(r, i + 0.1, i + 0.9, colors=c, lw=0.6, alpha=0.6)
    rax.set_xlim(*xl)
    rax.set_ylim(0, len(terms))
    rax.set_xticks([])
    rax.set_yticks([])
    for k in ["top", "right", "left"]:
        rax.spines[k].set_visible(False)
    rax.spines["bottom"].set_color("black")
    rax.spines["bottom"].set_linewidth(0.8)
    rax.grid(False)
    ftext(risk_xy[0], risk_xy[1], "High risk<------------>Low risk", fontsize=7.3,
          ha="center", va="center")

    mx, tx, y0, sp = leg
    n = len(terms)
    lax = px_axes(mx - 6, y0 - sp / 2, tx + 10, y0 + (n - 0.5) * sp)
    lax.set_xlim(mx - 6, tx + 10)
    lax.set_ylim(y0 + (n - 0.5) * sp, y0 - sp / 2)
    lax.axis("off")
    ys = y0 + sp * np.arange(n)
    lax.scatter([mx] * n, ys, c=GSEA_COLORS, s=7, edgecolors="#222222", linewidths=0.3)
    for y, name in zip(ys, terms):
        lax.text(tx, y, name, fontsize=5.2, ha="left", va="center", color="#1A1A1A")


def joined(main, wall):
    return [a + b for a, b in zip(main, wall)]


# ---------------- panel A ----------------
A_all_q = A_bp_q + A_cc_q + A_mf_q
normA = Normalize(min(A_all_q), max(A_all_q))
A_xlim = (-4.35, 91.35)
facets_A = [(A_bp_terms, A_bp_count, A_bp_q, 38, 154, "BP"),
            (A_cc_terms, A_cc_count, A_cc_q, 159, 274, "CC"),
            (A_mf_terms, A_mf_count, A_mf_q, 279, 394, "MF")]
for i, (t, c, q, y0, y1, lab) in enumerate(facets_A):
    ax = px_axes(190, y0, 443, y1)
    bar_facet(ax, t, c, q, normA, A_xlim, [0, 25, 50, 75], [12.5, 37.5, 62.5, 87.5], 6.5, i == 2)
    strip(443, y0, 457, y1, lab)
qbar((469, 189, 482, 256), (469, 181), normA, [1e-7, 2e-7, 3e-7, 4e-7, 5e-7],
     ["1e-07", "2e-07", "3e-07", "4e-07", "5e-07"])

# ---------------- panel B ----------------
normB = Normalize(min(B_q), max(B_q))
axB = px_axes(792, 33, 1032, 396)
bar_facet(axB, B_terms, B_count, B_q, normB, (-1.15, 24.15), [0, 5, 10, 15, 20],
          [2.5, 7.5, 12.5, 17.5, 22.5], 6.5, True)
qbar((1044, 187, 1058, 255), (1044, 179), normB, [0.01, 0.02, 0.03, 0.04],
     ["0.01", "0.02", "0.03", "0.04"])

# ---------------- panels C, D ----------------
gsea_panel((44, 466, 263, 653), (44, 692, 263, 739), C_terms,
           joined(C_rank, C_rank_wall), joined(C_es, C_es_wall),
           (-0.774, 0.829), [-0.4, 0.0, 0.4, 0.8], 698, (283, 294, 497.7, 14.7), (20, 561), (153, 745))
gsea_panel((599, 470.7, 836.7, 655.7), (599, 694, 836.7, 741.7), D_terms,
           joined(D_rank, D_rank_wall), joined(D_es, D_es_wall),
           (-0.781, 0.729), [-0.4, 0.0, 0.4], 711, (858, 868, 498.7, 14.8), (574, 563), (716.7, 747))

# ---------------- panel E ----------------
E_all_q = E_bp_q + E_cc_q + E_mf_q
E_all_count = E_bp_count + E_cc_count + E_mf_count
normE = Normalize(min(E_all_q), max(E_all_q))
sizesE = gg_sizes(sorted(set(E_all_count + [10, 20, 30, 40])), min(E_all_count), max(E_all_count), 4.7, 13.3)
E_xlim = (0.0087, 0.2235)
facets_E = [(E_bp_terms, E_bp_ratio, E_bp_count, E_bp_q, 781.7, 905, "BP"),
            (E_cc_terms, E_cc_ratio, E_cc_count, E_cc_q, 910, 1034.3, "CC"),
            (E_mf_terms, E_mf_ratio, E_mf_count, E_mf_q, 1039.3, 1163.3, "MF")]
for i, (t, r, c, q, y0, y1, lab) in enumerate(facets_E):
    ax = px_axes(270.7, y0, 452, y1)
    dot_facet(ax, t, r, c, q, normE, sizesE, E_xlim, [0.05, 0.10, 0.15, 0.20],
              [0.025, 0.075, 0.125, 0.175], 6.1, i == 2)
    if i == 2:
        ax.set_xticklabels(["0.05", "0.10", "0.15", "0.20"])
    strip(452, y0, 465, y1, lab)
ftext(361.7, 1181, "GeneRatio", fontsize=6.3, ha="center", va="center")
size_legend(477, 897.7, 484.3, [911.3, 924, 937.3, 952.3], 496.7, [10, 20, 30, 40], sizesE)
qbar((477, 988.3, 489, 1051.7), (477, 980.7), normE, [0.00025, 0.0005, 0.00075],
     ["0.00025", "0.00050", "0.00075"])

# ---------------- panel F ----------------
normF = Normalize(min(F_q), max(F_q))
sizesF = gg_sizes(sorted(set(F_count + [6, 8, 10, 12])), min(F_count), max(F_count), 4.0, 10.3)
axF = px_axes(751, 839.3, 1021.7, 1106.7)
dot_facet(axF, F_terms, F_ratio, F_count, F_q, normF, sizesF, (0.0460, 0.1225),
          [0.06, 0.08, 0.10, 0.12], [0.05, 0.07, 0.09, 0.11], 5.2, True)
axF.set_xticklabels(["0.06", "0.08", "0.10", "0.12"])
ftext(886.7, 1123.5, "GeneRatio", fontsize=5.3, ha="center", va="center")
size_legend(1031.7, 911, 1038.3, [922.3, 933, 944.3, 957.3], 1049.3, [6, 8, 10, 12], sizesF)
qbar((1031.7, 986.7, 1041.7, 1038.3), (1031.7, 980.7), normF, [0.01, 0.02, 0.03, 0.04],
     ["0.01", "0.02", "0.03", "0.04"])

# ---------------- panels G, H ----------------
gsea_panel((44, 1221.7, 149, 1413.3), (44, 1453.3, 149, 1500), G_terms,
           joined(G_rank, G_rank_wall), joined(G_es, G_es_wall),
           (-0.709, 0.825), [-0.4, 0.0, 0.4, 0.8], 340, (169, 179.3, 1251.3, 15.3), (20, 1317), (96.7, 1509.3))
gsea_panel((592.7, 1226, 789.3, 1417.3), (592.7, 1456, 789.3, 1505.3), H_terms,
           joined(H_rank, H_rank_wall), joined(H_es, H_es_wall),
           (-0.674, 0.689), [-0.4, 0.0, 0.4], 620, (810.7, 821.7, 1256, 15.2), (567, 1322), (691, 1512))

# ---------------- panel letters ----------------
for lab, x, y in [("A", 11, 19), ("B", 574, 19), ("C", 11, 434), ("D", 574, 434),
                  ("E", 11, 774), ("F", 572, 800), ("G", 11, 1197), ("H", 574, 1197)]:
    ftext(x, y, lab, fontsize=16, fontweight="bold", ha="left", va="center")

fig.savefig("out.png", dpi=100, facecolor="white")
